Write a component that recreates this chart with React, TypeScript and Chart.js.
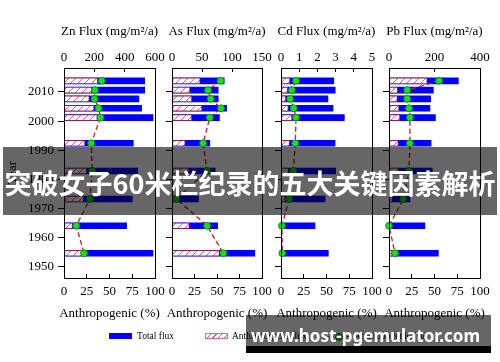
import React, { useEffect, useRef } from "react";
import { Chart, registerables } from "chart.js";

Chart.register(...registerables);

// ---------- data ----------
const sampleYears = [2013.8, 2010.6, 2007.6, 2004.4, 2001.2, 1992.4, 1982.9, 1973.3, 1964.1, 1954.7];
const yearTicks = [1950, 1960, 1970, 1980, 1990, 2000, 2010];
const percentTicks = [0, 25, 50, 75, 100];

const znTotal = [532, 532, 494, 512, 587, 457, 486, 450, 413, 587];
const znAnthro = [222, 182, 167, 198, 220, 138, 150, 129, 56, 128];
const znPercent = [41.5, 34, 33.5, 38, 40, 30, 31, 28.5, 13.5, 22];
const znTicks = [0, 200, 400, 600];

const asTotal = [87, 77, 77, 91, 79, 63, 72, 44, 76, 138];
const asAnthro = [47, 30, 33, 50, 33, 22, 28, 2, 29, 79];
const asPercent = [54, 40, 43, 54.5, 42, 34.5, 39, 5, 39, 57];
const asTicks = [0, 50, 100, 150];

const cdTotal = [2.9, 2.98, 2.58, 2.86, 3.48, 2.97, 3.0, 2.42, 1.87, 2.6];
const cdAnthro = [0.49, 0.37, 0.26, 0.4, 0.6, 0.47, 0.4, 0.22, 0.02, 0.04];
const cdPercent = [16.5, 12, 10, 14, 16.5, 15.7, 13.5, 9, 1, 1.5];
const cdTicks = [0, 1, 2, 3, 4, 5];

const pbTotal = [305, 195, 183, 180, 204, 185, 190, 92, 158, 217];
const pbAnthro = [168, 38, 37, 44, 48, 41, 42, 15, 0, 14];
const pbPercent = [55, 20, 20, 22, 23, 23, 22, 15.7, 0, 6.6];
const pbTicks = [0, 200, 400];

const panelTitles = ["Zn Flux (mg/m²/a)", "As Flux (mg/m²/a)", "Cd Flux (mg/m²/a)", "Pb Flux (mg/m²/a)"];
const bottomTitle = "Anthropogenic (%)";
const yTitle = "Year";
const legendLabels = ["Total flux", "Anthropogenic flux", "Anthropogenic (%)"];
const bannerText = "突破女子60米栏纪录的五大关键因素解析";
const watermarkText = "www.host-pgemulator.com";

// ---------- layout ----------
const W = 500;
const H = 362;
const SERIF = "'Liberation Serif', 'Times New Roman', serif";

const panels = [
  { title: panelTitles[0], total: znTotal, anthro: znAnthro, pct: znPercent, ticks: znTicks, left: 64, right: 155, labels: true },
  { title: panelTitles[1], total: asTotal, anthro: asAnthro, pct: asPercent, ticks: asTicks, left: 172, right: 262, labels: false },
  { title: panelTitles[2], total: cdTotal, anthro: cdAnthro, pct: cdPercent, ticks: cdTicks, left: 281, right: 372, labels: false },
  { title: panelTitles[3], total: pbTotal, anthro: pbAnthro, pct: pbPercent, ticks: pbTicks, left: 389, right: 480, labels: false },
];

const panelTextPlugin = {
  id: "panelText",
  afterDraw(chart: any, _args: any, opts: any) {
    const { ctx, chartArea: a } = chart;
    ctx.save();
    ctx.fillStyle = "#000";
    ctx.font = `13px ${SERIF}`;
    ctx.textAlign = "center";
    ctx.textBaseline = "middle";
    const cx = (a.left + a.right) / 2;
    ctx.fillText(opts.top, cx, 32);
    ctx.fillText(opts.bottom, cx, 314);
    ctx.strokeStyle = "#000";
    ctx.lineWidth = 1;
    const l = Math.round(a.left), t = Math.round(a.top), r = Math.round(a.right), b = Math.round(a.bottom);
    ctx.strokeRect(l + 0.5, t + 0.5, r - l, b - t);
    ctx.restore();
  },
};

function makeHatch(): CanvasPattern | string {
  const c = document.createElement("canvas");
  c.width = 7;
  c.height = 7;
  const g = c.getContext("2d");
  if (!g) return "#fff";
  g.fillStyle = "#ffffff";
  g.fillRect(0, 0, 7, 7);
  g.strokeStyle = "#e0607a";
  g.lineWidth = 1;
  g.beginPath();
  g.moveTo(-1, 8);
  g.lineTo(8, -1);
  g.stroke();
  return g.createPattern(c, "repeat") || "#fff";
}

const tickList = (vals: number[]) => (s: any) => {
  s.ticks = vals.map((v) => ({ value: v }));
};

function buildConfig(p: typeof panels[number], hatch: any): any {
  const yW = p.labels ? 64 : 6;
  return {
    type: "bar",
    data: {
      datasets: [
        {
          type: "line",
          label: legendLabels[2],
          data: p.pct.map((v, i) => ({ x: v, y: sampleYears[i] })),
          xAxisID: "xb",
          yAxisID: "y",
          borderColor: "#d01818",
          borderWidth: 1.3,
          borderDash: [5, 3],
          pointRadius: 3.4,
          pointBackgroundColor: "#18e018",
          pointBorderColor: "#0c960c",
          pointBorderWidth: 1,
          fill: false,
          clip: false,
          tension: 0,
          order: 0,
        },
        {
          type: "bar",
          label: legendLabels[1],
          data: p.anthro.map((v, i) => ({ x: v, y: sampleYears[i] })),
          xAxisID: "xt",
          yAxisID: "y",
          backgroundColor: hatch,
          borderColor: "#8a1e5e",
          borderWidth: 1,
          borderSkipped: false,
          barThickness: 6,
          grouped: false,
          order: 1,
        },
        {
          type: "bar",
          label: legendLabels[0],
          data: p.total.map((v, i) => ({ x: v, y: sampleYears[i] })),
          xAxisID: "xt",
          yAxisID: "y",
          backgroundColor: "#0000ff",
          borderWidth: 0,
          barThickness: 6,
          grouped: false,
          order: 2,
        },
      ],
    },
    options: {
      responsive: false,
      animation: false,
      indexAxis: "y",
      layout: { padding: { left: p.left - yW, right: W - p.right, top: 0, bottom: 0 } },
      plugins: {
        legend: { display: false },
        tooltip: { enabled: false },
        panelText: { top: p.title, bottom: bottomTitle },
      },
      scales: {
        y: {
          type: "linear",
          axis: "y",
          position: "left",
          min: 1946.2,
          max: 2018.2,
          offset: false,
          afterBuildTicks: tickList(yearTicks),
          afterFit: (s: any) => {
            s.width = yW;
          },
          ticks: {
            display: p.labels,
            padding: 4,
            color: "#000",
            font: { family: SERIF, size: 13 },
            autoSkip: false,
            callback: (v: any) => String(v),
          },
          grid: { display: true, drawOnChartArea: false, drawTicks: true, tickLength: 6, color: "#000", offset: false },
          border: { display: true, color: "#000" },
          title: {
            display: p.labels,
            text: yTitle,
            color: "#000",
            font: { family: SERIF, size: 13 },
            padding: { top: 5, bottom: 0 },
          },
        },
        xt: {
          type: "linear",
          axis: "x",
          position: "top",
          min: p.ticks[0],
          max: p.ticks[p.ticks.length - 1],
          afterBuildTicks: tickList(p.ticks),
          afterFit: (s: any) => {
            s.height = 68;
          },
          ticks: {
            padding: 6.5,
            color: "#000",
            font: { family: SERIF, size: 13 },
            autoSkip: false,
            maxRotation: 0,
            minRotation: 0,
          },
          grid: { display: true, drawOnChartArea: false, drawTicks: true, tickLength: -4, color: "#000" },
          border: { display: true, color: "#000" },
        },
        xb: {
          type: "linear",
          axis: "x",
          position: "bottom",
          min: 0,
          max: 100,
          afterBuildTicks: tickList(percentTicks),
          afterFit: (s: any) => {
            s.height = H - 278;
          },
          ticks: {
            padding: 10.2,
            color: "#000",
            font: { family: SERIF, size: 13 },
            autoSkip: false,
            maxRotation: 0,
            minRotation: 0,
          },
          grid: { display: true, drawOnChartArea: false, drawTicks: true, tickLength: -4, color: "#000" },
          border: { display: true, color: "#000" },
        },
      },
    },
    plugins: [panelTextPlugin],
  };
}

export default function App() {
  const refs = [useRef<HTMLCanvasElement>(null), useRef<HTMLCanvasElement>(null), useRef<HTMLCanvasElement>(null), useRef<HTMLCanvasElement>(null)];

  useEffect(() => {
    const hatch = makeHatch();
    const charts: Chart[] = [];
    panels.forEach((p, i) => {
      const c = refs[i].current;
      if (c) charts.push(new Chart(c, buildConfig(p, hatch)));
    });
    return () => charts.forEach((ch) => ch.destroy());
  }, []);

  const canvasStyle: React.CSSProperties = { position: "absolute", left: 0, top: 0, width: W, height: H };
  const legendText: React.CSSProperties = {
    position: "absolute",
    top: 330,
    height: 12,
    lineHeight: "12px",
    fontFamily: SERIF,
    fontSize: 9.5,
    color: "#000",
    whiteSpace: "nowrap",
  };

  return (
    <div style={{ position: "fixed", left: 0, top: 0, width: W, height: H, background: "#fff", overflow: "hidden" }}>
      {refs.map((r, i) => (
        <canvas key={i} ref={r} width={W} height={H} style={canvasStyle} />
      ))}
      {/* legend */}
      <div style={{ position: "absolute", left: 109, top: 333, width: 23, height: 6, background: "#0000ff" }} />
      <div style={{ ...legendText, left: 137 }}>{legendLabels[0]}</div>
      <div
        style={{
          position: "absolute",
          left: 205,
          top: 333,
          width: 21,
          height: 4,
          border: "1px solid #d4708a",
          background: "repeating-linear-gradient(135deg, #fff 0px, #fff 3px, #e0607a 3px, #e0607a 4px)",
        }}
      />
      <div style={{ ...legendText, left: 232 }}>{legendLabels[1]}</div>
      <div style={{ position: "absolute", left: 326, top: 336, width: 24, height: 0, borderTop: "1px dashed #d41818" }} />
      <div
        style={{
          position: "absolute",
          left: 334.5,
          top: 332.5,
          width: 6,
          height: 6,
          borderRadius: "50%",
          background: "#18e018",
          border: "1px solid #0c960c",
        }}
      />
      <div style={{ ...legendText, left: 354 }}>{legendLabels[2]}</div>

      {/* banner overlay */}
      <div
        style={{
          position: "absolute",
          left: 3,
          top: 147,
          width: 494,
          height: 68,
          background: "rgba(0,0,0,0.6)",
        }}
      />
      <div
        style={{
          position: "absolute",
          left: 0,
          top: 149,
          width: W,
          height: 68,
          lineHeight: "68px",
          textAlign: "center",
          color: "#fff",
          fontFamily: "'Noto Sans CJK SC', sans-serif",
          fontWeight: 700,
          fontSize: 27,
          whiteSpace: "nowrap",
        }}
      >
        {bannerText}
      </div>

      {/* watermark */}
      <div style={{ position: "absolute", left: 246, top: 315, width: 245, height: 31, background: "rgba(0,0,0,0.6)" }} />
      <div style={{ position: "absolute", left: 246, top: 346, width: 245, height: 7, background: "#000" }} />
      <div
        style={{
          position: "absolute",
          left: 243,
          top: 320,
          width: 245,
          height: 31,
          lineHeight: "31px",
          textAlign: "center",
          color: "#fff",
          fontFamily: "'Noto Sans', 'Open Sans', sans-serif",
          fontWeight: 700,
          fontSize: 17,
          whiteSpace: "nowrap",
        }}
      >
        {watermarkText}
      </div>
    </div>
  );
}
